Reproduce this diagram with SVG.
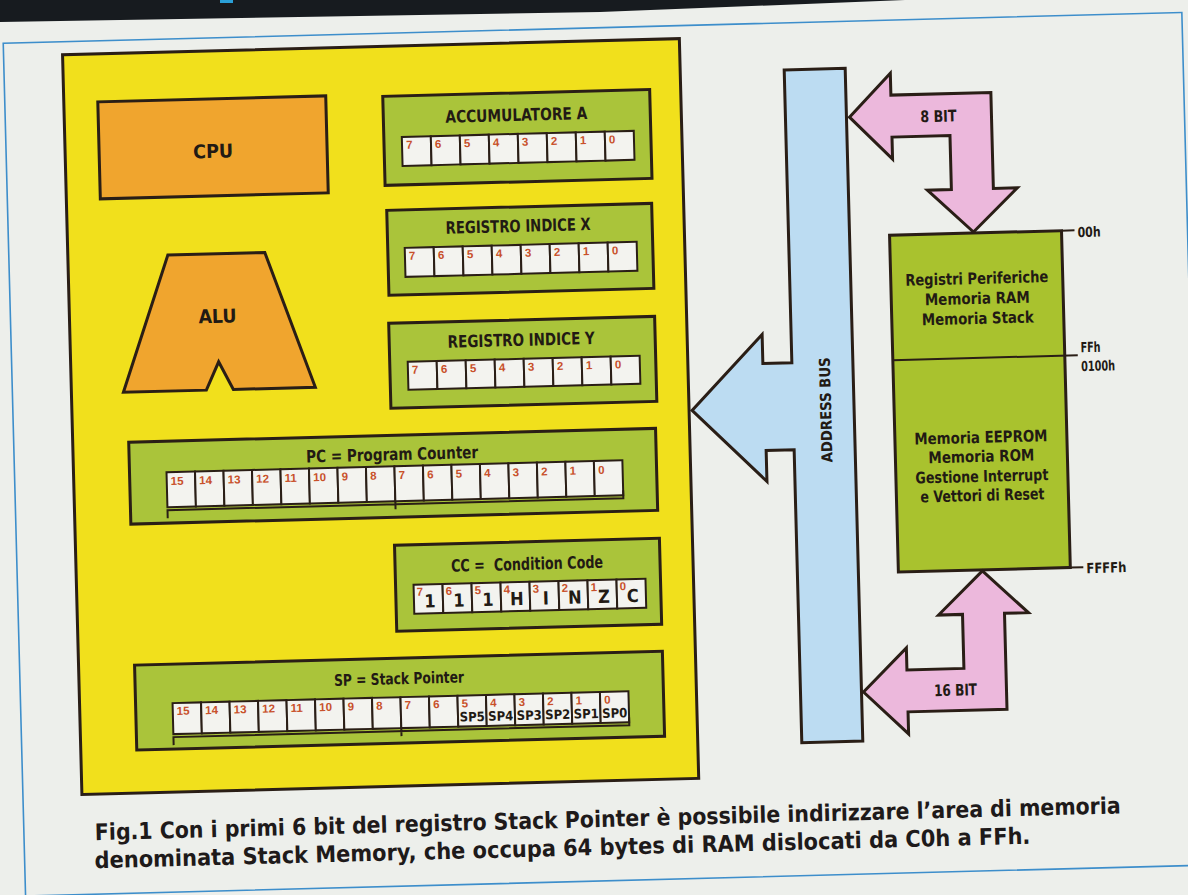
<svg xmlns="http://www.w3.org/2000/svg" width="1188" height="895" viewBox="0 0 1188 895">
<defs>
<style>
.bx{stroke:#2a1e16;stroke-width:3;stroke-linejoin:miter}
.reg{fill:#aac43a}
.cell{fill:#f3f3ef;stroke:#2a1e16;stroke-width:2}
.ln{stroke:#2a1e16;stroke-width:2;fill:none}
.t{font-family:"Liberation Sans Narrow","DejaVu Sans Condensed","Liberation Sans",Arial,sans-serif;font-weight:bold;fill:#221a14}
.m{text-anchor:middle}
.ttl{font-size:17px}
.d{font-family:"Liberation Sans Narrow","Liberation Sans",Arial,sans-serif;font-weight:bold;font-size:11.5px;fill:#c8502a}
.cap{font-family:"Liberation Sans Narrow","DejaVu Sans Condensed","Liberation Sans",Arial,sans-serif;font-weight:bold;font-size:23px;fill:#1e1a1a}
</style>
</defs>
<rect width="1188" height="895" fill="#edefeb"/>
<polygon points="0,0 905,0 600,12 0,22" fill="#171b1f"/>
<rect x="220" y="0" width="13" height="3" fill="#2aa0d8"/>
<g transform="rotate(-1.5 594 447)">
<rect x="14" y="28" width="1179" height="853" fill="none" stroke="#3d8ecb" stroke-width="1.6"/>

<g id="mcu-panel">
<rect class="bx" x="73" y="41" width="617" height="740" fill="#f1e01c"/>
</g>

<g id="cpu">
<rect class="bx" x="107" y="89" width="228" height="97" fill="#f0a52e"/>
<text class="t m" x="221" y="148" font-size="19" textLength="40" lengthAdjust="spacingAndGlyphs">CPU</text>
</g>

<g id="alu">
<polygon class="bx" points="173,244 270,244 317,380 235,380 221,352 208,380 125,380" fill="#f0a52e"/>
<text class="t m" x="221" y="313" font-size="19" textLength="38" lengthAdjust="spacingAndGlyphs">ALU</text>
</g>

<g id="acc-a">
<rect class="bx reg" x="392" y="91" width="267" height="89"/>
<text class="t m ttl" x="525" y="119" textLength="142" lengthAdjust="spacingAndGlyphs">ACCUMULATORE A</text>
<rect class="cell" x="410" y="132" width="29" height="29"/><rect class="cell" x="439" y="132" width="29" height="29"/><rect class="cell" x="468" y="132" width="29" height="29"/><rect class="cell" x="497" y="132" width="29" height="29"/><rect class="cell" x="526" y="132" width="29" height="29"/><rect class="cell" x="555" y="132" width="29" height="29"/><rect class="cell" x="584" y="132" width="29" height="29"/><rect class="cell" x="613" y="132" width="29" height="29"/>
<text class="d" y="144"><tspan x="414">7</tspan><tspan x="443">6</tspan><tspan x="472">5</tspan><tspan x="501">4</tspan><tspan x="530">3</tspan><tspan x="559">2</tspan><tspan x="588">1</tspan><tspan x="617">0</tspan></text>
</g>

<g id="reg-x">
<rect class="bx reg" x="393" y="205" width="265" height="85"/>
<text class="t m ttl" x="524" y="230" textLength="145" lengthAdjust="spacingAndGlyphs">REGISTRO INDICE X</text>
<rect class="cell" x="410" y="243" width="29" height="29"/><rect class="cell" x="439" y="243" width="29" height="29"/><rect class="cell" x="468" y="243" width="29" height="29"/><rect class="cell" x="497" y="243" width="29" height="29"/><rect class="cell" x="526" y="243" width="29" height="29"/><rect class="cell" x="555" y="243" width="29" height="29"/><rect class="cell" x="584" y="243" width="29" height="29"/><rect class="cell" x="613" y="243" width="29" height="29"/>
<text class="d" y="255"><tspan x="414">7</tspan><tspan x="443">6</tspan><tspan x="472">5</tspan><tspan x="501">4</tspan><tspan x="530">3</tspan><tspan x="559">2</tspan><tspan x="588">1</tspan><tspan x="617">0</tspan></text>
</g>

<g id="reg-y">
<rect class="bx reg" x="392" y="318" width="266" height="85"/>
<text class="t m ttl" x="524" y="344" textLength="147" lengthAdjust="spacingAndGlyphs">REGISTRO INDICE Y</text>
<rect class="cell" x="410" y="357" width="29" height="28"/><rect class="cell" x="439" y="357" width="29" height="28"/><rect class="cell" x="468" y="357" width="29" height="28"/><rect class="cell" x="497" y="357" width="29" height="28"/><rect class="cell" x="526" y="357" width="29" height="28"/><rect class="cell" x="555" y="357" width="29" height="28"/><rect class="cell" x="584" y="357" width="29" height="28"/><rect class="cell" x="613" y="357" width="29" height="28"/>
<text class="d" y="369"><tspan x="414">7</tspan><tspan x="443">6</tspan><tspan x="472">5</tspan><tspan x="501">4</tspan><tspan x="530">3</tspan><tspan x="559">2</tspan><tspan x="588">1</tspan><tspan x="617">0</tspan></text>
</g>

<g id="pc">
<rect class="bx reg" x="129" y="430" width="527" height="82"/>
<text class="t m ttl" x="392" y="455" textLength="172" lengthAdjust="spacingAndGlyphs">PC = Program Counter</text>
<rect class="cell" x="166" y="461" width="28.5" height="35"/><rect class="cell" x="194.5" y="461" width="28.5" height="35"/><rect class="cell" x="223" y="461" width="28.5" height="35"/><rect class="cell" x="251.5" y="461" width="28.5" height="35"/><rect class="cell" x="280" y="461" width="28.5" height="35"/><rect class="cell" x="308.5" y="461" width="28.5" height="35"/><rect class="cell" x="337" y="461" width="28.5" height="35"/><rect class="cell" x="365.5" y="461" width="28.5" height="35"/><rect class="cell" x="394" y="461" width="28.5" height="35"/><rect class="cell" x="422.5" y="461" width="28.5" height="35"/><rect class="cell" x="451" y="461" width="28.5" height="35"/><rect class="cell" x="479.5" y="461" width="28.5" height="35"/><rect class="cell" x="508" y="461" width="28.5" height="35"/><rect class="cell" x="536.5" y="461" width="28.5" height="35"/><rect class="cell" x="565" y="461" width="28.5" height="35"/><rect class="cell" x="593.5" y="461" width="28.5" height="35"/>
<text class="d" y="474"><tspan x="170">15</tspan><tspan x="198.5">14</tspan><tspan x="227">13</tspan><tspan x="255.5">12</tspan><tspan x="284">11</tspan><tspan x="312.5">10</tspan><tspan x="341">9</tspan><tspan x="369.5">8</tspan><tspan x="398">7</tspan><tspan x="426.5">6</tspan><tspan x="455">5</tspan><tspan x="483.5">4</tspan><tspan x="512">3</tspan><tspan x="540.5">2</tspan><tspan x="569">1</tspan><tspan x="597.5">0</tspan></text>
<path class="ln" d="M166,507 V499 H622 V491 M394,496 V504"/>
</g>

<g id="cc">
<rect class="bx reg" x="392" y="540" width="265" height="86"/>
<text class="t m ttl" x="524" y="568" textLength="152" lengthAdjust="spacingAndGlyphs" style="white-space:pre">CC =  Condition Code</text>
<rect class="cell" x="410" y="580" width="29" height="29"/><rect class="cell" x="439" y="580" width="29" height="29"/><rect class="cell" x="468" y="580" width="29" height="29"/><rect class="cell" x="497" y="580" width="29" height="29"/><rect class="cell" x="526" y="580" width="29" height="29"/><rect class="cell" x="555" y="580" width="29" height="29"/><rect class="cell" x="584" y="580" width="29" height="29"/><rect class="cell" x="613" y="580" width="29" height="29"/>
<text class="d" y="591"><tspan x="413">7</tspan><tspan x="442">6</tspan><tspan x="471">5</tspan><tspan x="500">4</tspan><tspan x="529">3</tspan><tspan x="558">2</tspan><tspan x="587">1</tspan><tspan x="616">0</tspan></text>
<text class="t m" y="603" font-size="18"><tspan x="426">1</tspan><tspan x="455">1</tspan><tspan x="484">1</tspan><tspan x="513">H</tspan><tspan x="542">I</tspan><tspan x="571">N</tspan><tspan x="600">Z</tspan><tspan x="629">C</tspan></text>
</g>

<g id="sp">
<rect class="bx reg" x="129" y="653" width="528" height="85"/>
<text class="t m" x="393" y="679" font-size="16" textLength="130" lengthAdjust="spacingAndGlyphs">SP = Stack Pointer</text>
<rect class="cell" x="166" y="692" width="28.5" height="31"/><rect class="cell" x="194.5" y="692" width="28.5" height="31"/><rect class="cell" x="223" y="692" width="28.5" height="31"/><rect class="cell" x="251.5" y="692" width="28.5" height="31"/><rect class="cell" x="280" y="692" width="28.5" height="31"/><rect class="cell" x="308.5" y="692" width="28.5" height="31"/><rect class="cell" x="337" y="692" width="28.5" height="31"/><rect class="cell" x="365.5" y="692" width="28.5" height="31"/><rect class="cell" x="394" y="692" width="28.5" height="31"/><rect class="cell" x="422.5" y="692" width="28.5" height="31"/><rect class="cell" x="451" y="692" width="28.5" height="31"/><rect class="cell" x="479.5" y="692" width="28.5" height="31"/><rect class="cell" x="508" y="692" width="28.5" height="31"/><rect class="cell" x="536.5" y="692" width="28.5" height="31"/><rect class="cell" x="565" y="692" width="28.5" height="31"/><rect class="cell" x="593.5" y="692" width="28.5" height="31"/>
<text class="d" y="704"><tspan x="170">15</tspan><tspan x="198.5">14</tspan><tspan x="227">13</tspan><tspan x="255.5">12</tspan><tspan x="284">11</tspan><tspan x="312.5">10</tspan><tspan x="341">9</tspan><tspan x="369.5">8</tspan><tspan x="398">7</tspan><tspan x="426.5">6</tspan><tspan x="455">5</tspan><tspan x="483.5">4</tspan><tspan x="512">3</tspan><tspan x="540.5">2</tspan><tspan x="569">1</tspan><tspan x="597.5">0</tspan></text>
<text class="t m" y="718" font-size="13"><tspan x="465.3">SP5</tspan><tspan x="493.8">SP4</tspan><tspan x="522.3">SP3</tspan><tspan x="550.8">SP2</tspan><tspan x="579.3">SP1</tspan><tspan x="607.8">SP0</tspan></text>
<path class="ln" d="M166,734 V726 H622 V718 M394,723 V731"/>
</g>

<g id="address-bus">
<polygon class="bx" points="794,75 855,75 855,748 794,748 794,455 766,455 766,486 693,413 765,339 765,368 794,368" fill="#bcdcf2"/>
<text class="t m" transform="translate(832,416) rotate(-90)" font-size="15" textLength="105" lengthAdjust="spacingAndGlyphs">ADDRESS BUS</text>
</g>

<g id="memory">
<rect class="bx" x="895" y="243" width="172" height="337" fill="#a9c22e"/>
<path class="ln" d="M895,368 H1080 M1067,243 H1080 M1067,580 H1080"/>
<text class="t m" x="981" y="294" font-size="16" textLength="143" lengthAdjust="spacingAndGlyphs">Registri Periferiche</text>
<text class="t m" x="981" y="314" font-size="16" textLength="105" lengthAdjust="spacingAndGlyphs">Memoria RAM</text>
<text class="t m" x="981" y="334" font-size="16" textLength="112" lengthAdjust="spacingAndGlyphs">Memoria Stack</text>
<text class="t m" x="981" y="453" font-size="16" textLength="133" lengthAdjust="spacingAndGlyphs">Memoria EEPROM</text>
<text class="t m" x="981" y="472" font-size="16" textLength="106" lengthAdjust="spacingAndGlyphs">Memoria ROM</text>
<text class="t m" x="981" y="492" font-size="16" textLength="133" lengthAdjust="spacingAndGlyphs">Gestione Interrupt</text>
<text class="t m" x="981" y="511" font-size="16" textLength="124" lengthAdjust="spacingAndGlyphs">e Vettori di Reset</text>
<text class="t" x="1083" y="250" font-size="14" textLength="23" lengthAdjust="spacingAndGlyphs">00h</text>
<text class="t" x="1083" y="365" font-size="14" textLength="20" lengthAdjust="spacingAndGlyphs">FFh</text>
<text class="t" x="1083" y="384" font-size="14" textLength="34" lengthAdjust="spacingAndGlyphs">0100h</text>
<text class="t" x="1083" y="586" font-size="14" textLength="40" lengthAdjust="spacingAndGlyphs">FFFFh</text>
</g>

<g id="connectors">
<polygon class="bx" points="858,124 900,81 900,103 1000,103 1000,199 1024,199 979,242 934,199 958,199 958,145 900,145 900,167" fill="#ecb8dc"/>
<text class="t m" x="947" y="131" font-size="16" textLength="36" lengthAdjust="spacingAndGlyphs">8 BIT</text>
<polygon class="bx" points="857,699 901,656 901,678 958,678 958,624 934,624 979,581 1024,624 1000,624 1000,720 901,720 901,742" fill="#ecb8dc"/>
<text class="t m" x="949" y="705" font-size="16" textLength="43" lengthAdjust="spacingAndGlyphs">16 BIT</text>
</g>

<g id="caption">
<text class="cap" x="85" y="827" textLength="1026" lengthAdjust="spacingAndGlyphs">Fig.1 Con i primi 6 bit del registro Stack Pointer è possibile indirizzare l’area di memoria</text>
<text class="cap" x="84" y="855" textLength="936" lengthAdjust="spacingAndGlyphs">denominata Stack Memory, che occupa 64 bytes di RAM dislocati da C0h a FFh.</text>
</g>
</g>
</svg>
